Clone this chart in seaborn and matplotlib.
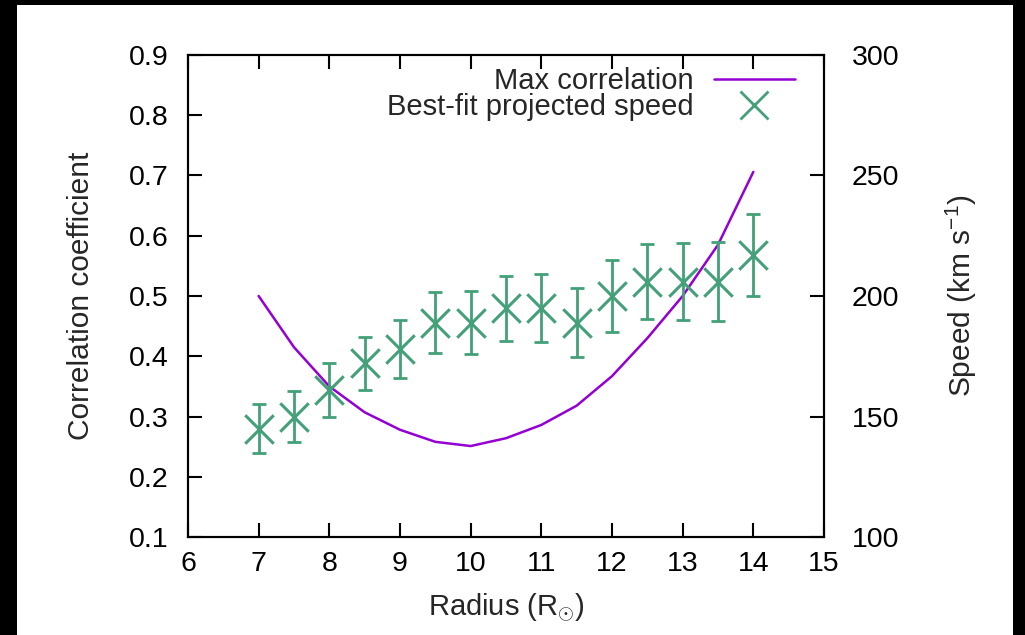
import numpy as np
import pandas as pd
import seaborn as sns
import matplotlib.pyplot as plt
from matplotlib.lines import Line2D
from matplotlib.patches import Rectangle

# values
radius = [7, 7.5, 8, 8.5, 9, 9.5, 10, 10.5, 11, 11.5, 12, 12.5, 13, 13.5, 14]
max_corr = [0.500, 0.415, 0.350, 0.307, 0.278, 0.258, 0.251, 0.264, 0.286,
            0.318, 0.367, 0.430, 0.500, 0.585, 0.706]
speed = [145, 150, 161, 172, 178, 189, 189, 195, 195, 189, 200, 206, 206, 206, 217]
speed_err = [10, 10.5, 11, 11, 12, 12.5, 13, 13.5, 14, 14.5, 15, 15.5, 16, 16.5, 17]

purple = "#9400d3"
green = "#43a078"
fs = 20.5

sns.set_theme(style="white")
plt.rcParams['font.family'] = ['Liberation Sans', 'DejaVu Sans']
plt.rcParams['mathtext.fontset'] = 'custom'
plt.rcParams['mathtext.rm'] = 'Liberation Sans'
plt.rcParams['mathtext.it'] = 'Liberation Sans'
plt.rcParams['font.size'] = fs

df = pd.DataFrame({"radius": radius, "corr": max_corr, "speed": speed, "err": speed_err})

fig = plt.figure(figsize=(10.25, 6.35), dpi=100, facecolor="black")
fig.patches.append(Rectangle((17 / 1025, 0), (1013 - 17) / 1025, 630 / 635,
                             transform=fig.transFigure, facecolor="white",
                             edgecolor="none", zorder=-10))
ax = fig.add_axes([0.1834, 0.1543, 0.6205, 0.7591])
ax.set_facecolor("white")
ax2 = ax.twinx()

sns.lineplot(data=df, x="radius", y="corr", ax=ax, color=purple, lw=1.8)
ax2.errorbar(df["radius"], df["speed"], yerr=df["err"], fmt="none",
             ecolor=green, elinewidth=2, capsize=5, capthick=2)
sns.scatterplot(data=df, x="radius", y="speed", ax=ax2, marker="x", color=green,
                s=420, linewidth=2.2)

ax.set_xlim(6, 15)
ax.set_ylim(0.1, 0.9)
ax2.set_ylim(100, 300)
ax.set_xticks(range(6, 16))
ax.set_yticks(np.arange(0.1, 0.91, 0.1))
ax.set_yticklabels([f"{v:.1f}" for v in np.arange(0.1, 0.91, 0.1)])
ax2.set_yticks(range(100, 301, 50))

ax.set_xlabel(r"Radius (R$_{\odot}$)", fontsize=21, labelpad=10)
ax.set_ylabel("Correlation coefficient", fontsize=21.5, labelpad=24)
ax2.set_ylabel(r"Speed (km s$^{\mathregular{-1}}$)", fontsize=21.5, labelpad=32)

for a in (ax, ax2):
    for s in a.spines.values():
        s.set_color("black")
        s.set_linewidth(1.5)
ax.tick_params(axis="both", direction="in", length=10, width=1.5, colors="black",
               labelsize=fs, top=True, left=True, bottom=True, right=False, pad=10)
ax.tick_params(axis="y", pad=14)
ax2.tick_params(axis="y", direction="in", length=10, width=1.5, colors="black",
                labelsize=fs, right=True, pad=20)

handles = [Line2D([], [], color=purple, lw=1.8),
           Line2D([], [], color=green, marker="x", ls="none", markersize=20, mew=2)]
ax.legend(handles, ["Max correlation", "Best-fit projected speed"],
          loc="upper right", bbox_to_anchor=(0.995, 1.03), frameon=False,
          markerfirst=False, handlelength=2.75, handletextpad=0.7,
          labelspacing=-0.05, fontsize=21)

fig.savefig("out.png", dpi=100, facecolor=fig.get_facecolor())
